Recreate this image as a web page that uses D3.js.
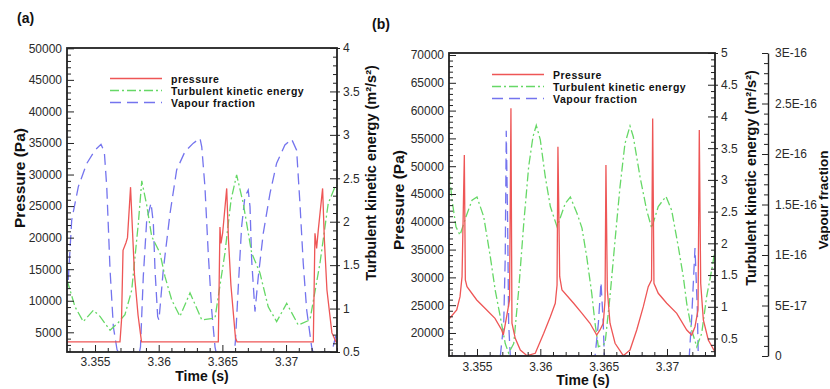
<!DOCTYPE html>
<html>
<head>
<meta charset="utf-8">
<script src="https://cdn.jsdelivr.net/npm/d3@7"></script>
<style>
  body { margin: 0; background: #fff; }
  svg { display: block; font-family: "Liberation Sans", Arial, sans-serif; }
</style>
</head>
<body>
<svg id="chart" width="830" height="389"></svg>
<script>
"use strict";

// ---- panel (a) ----
const pressureTimeA = [3.35280, 3.35696, 3.35708, 3.35720, 3.35743, 3.35755, 3.35779, 3.35794, 3.35810, 3.35838, 3.35865,
  3.36468, 3.36481, 3.36489, 3.36502, 3.36534, 3.36548, 3.36567, 3.36603, 3.36615,
  3.37214, 3.37227, 3.37240, 3.37253, 3.37287, 3.37301, 3.37321, 3.37360, 3.37392, 3.37400];
const pressureA = [3500, 3500, 6900, 18000, 19200, 20000, 28000, 21200, 14100, 7700, 3500,
  3500, 21700, 19100, 20700, 27800, 19600, 12500, 4100, 3500,
  3500, 20700, 18300, 21200, 27800, 19600, 11700, 4900, 3500, 3500];

const tkeTimeA = [3.35280, 3.35343, 3.35408, 3.35487, 3.35539, 3.35618, 3.35683, 3.35735, 3.35788, 3.35840, 3.35867,
  3.35906, 3.35945, 3.36010, 3.36049, 3.36102, 3.36167, 3.36246, 3.36338, 3.36442, 3.36520, 3.36568, 3.36612,
  3.36664, 3.36730, 3.36795, 3.36860, 3.36926, 3.37005, 3.37096, 3.37188, 3.37266, 3.37331, 3.37384, 3.37400];
const tkeA = [1.33, 1.02, 0.85, 0.98, 0.91, 0.75, 0.84, 0.93, 1.21, 1.98, 2.47,
  2.19, 1.83, 1.64, 1.37, 1.10, 0.91, 1.18, 0.87, 0.89, 1.64, 2.25, 2.54,
  2.21, 1.64, 1.41, 1.02, 0.85, 1.06, 0.81, 0.87, 1.52, 2.21, 2.40, 2.42];

// vapour fraction in (a) has no axis of its own: values are relative (0..1 of the frame height)
const vapourTimeA = [3.35290, 3.35317, 3.35369, 3.35435, 3.35500, 3.35547, 3.35573, 3.35592, 3.35618, 3.35644, 3.35673, 3.35684,
  3.35849, 3.35857, 3.35879, 3.35906, 3.35940, 3.35958, 3.35971, 3.35992, 3.36002, 3.36036, 3.36089, 3.36141, 3.36206,
  3.36272, 3.36324, 3.36338, 3.36363, 3.36389, 3.36416, 3.36442, 3.36450,
  3.36595, 3.36603, 3.36625, 3.36651, 3.36677, 3.36703, 3.36717, 3.36730, 3.36756, 3.36782, 3.36821, 3.36874, 3.36926,
  3.36991, 3.37044, 3.37083, 3.37109, 3.37135, 3.37162, 3.37201, 3.37211, 3.37360, 3.37400];
const vapourA = [0.237, 0.434, 0.544, 0.620, 0.664, 0.683, 0.659, 0.544, 0.270, 0.083, 0.007, 0,
  0, 0.017, 0.248, 0.434, 0.490, 0.423, 0.270, 0.116, 0.105, 0.270, 0.456, 0.599, 0.659,
  0.687, 0.703, 0.675, 0.544, 0.325, 0.138, 0.017, 0,
  0, 0.040, 0.215, 0.412, 0.511, 0.533, 0.478, 0.303, 0.133, 0.248, 0.390, 0.522, 0.621,
  0.681, 0.700, 0.664, 0.489, 0.292, 0.138, 0.017, 0, 0, 0.072];

// ---- panel (b) ----
const pressureTimeB = [3.35279, 3.35340, 3.35366, 3.35382, 3.35400, 3.35408, 3.35421, 3.35498, 3.35563, 3.35642, 3.35695, 3.35708,
  3.35734, 3.35757, 3.35768, 3.35776, 3.35802, 3.35842, 3.35895, 3.35960, 3.36027, 3.36079, 3.36118, 3.36132, 3.36139,
  3.36153, 3.36171, 3.36263, 3.36329, 3.36392, 3.36445, 3.36471, 3.36497, 3.36511, 3.36518, 3.36529, 3.36550, 3.36590,
  3.36655, 3.36708, 3.36761, 3.36813, 3.36852, 3.36878, 3.36887, 3.36897, 3.36931, 3.36998, 3.37077, 3.37156, 3.37195,
  3.37221, 3.37245, 3.37255, 3.37266, 3.37287, 3.37326, 3.37379];
const pressureB = [22500, 24140, 26530, 30130, 52000, 29530, 28330, 25940, 24440, 22640, 20540, 19640,
  22930, 25940, 60400, 21750, 19050, 16940, 15920, 16350, 19940, 22930, 25340, 28630, 53500,
  30130, 27730, 25340, 23540, 21750, 19640, 20540, 21750, 25940, 50200, 27730, 21750, 18150,
  15920, 16940, 20540, 24730, 28330, 29530, 58600, 28940, 27140, 25340, 23540, 20540, 19640,
  21130, 24140, 56500, 28940, 22340, 18740, 16580];

const tkeTimeB = [3.35279, 3.35303, 3.35334, 3.35366, 3.35413, 3.35461, 3.35500, 3.35553, 3.35605, 3.35644, 3.35684,
  3.35723, 3.35750, 3.35790, 3.35829, 3.35869, 3.35908, 3.35942, 3.35968, 3.36000, 3.36039, 3.36079, 3.36132,
  3.36197, 3.36237, 3.36290, 3.36329, 3.36366, 3.36406, 3.36432, 3.36458, 3.36511, 3.36550, 3.36590, 3.36629,
  3.36668, 3.36708, 3.36734, 3.36787, 3.36840, 3.36879, 3.36931, 3.36992, 3.37037, 3.37089, 3.37129, 3.37156,
  3.37195, 3.37235, 3.37274, 3.37313, 3.37353, 3.37379];
const tkeB = [3.15, 2.68, 2.26, 2.13, 2.42, 2.68, 2.73, 2.42, 1.79, 1.26, 0.84,
  0.42, 0.27, 0.42, 1.26, 2.31, 3.21, 3.68, 3.86, 3.63, 3.05, 2.58, 2.26,
  2.63, 2.73, 2.47, 2.24, 1.79, 1.21, 0.74, 0.37, 0.42, 1.16, 2.05, 2.89,
  3.57, 3.85, 3.68, 3.05, 2.52, 2.24, 2.58, 2.74, 2.52, 1.95, 1.47, 1.05,
  0.63, 0.37, 0.58, 1.16, 1.58, 1.89];

const vapourTimeB = [3.35279, 3.35684, 3.35711, 3.35723, 3.35731, 3.35742, 3.35750, 3.35763,
  3.36432, 3.36458, 3.36479, 3.36497, 3.36505,
  3.37176, 3.37195, 3.37221, 3.37239, 3.37247, 3.37379];
const vapourB = [0, 0, 3.2e-17, 9.8e-17, 2.23e-16, 1.32e-16, 3.2e-17, 0,
  0, 3.2e-17, 7.3e-17, 3.2e-17, 0,
  0, 3.8e-17, 1.07e-16, 4.8e-17, 0, 0];

// ---- ticks ----
const timeTicks = [3.355, 3.36, 3.365, 3.37];
const timeTickLabels = ["3.355", "3.36", "3.365", "3.37"];
const tkeTickLabels = ["0.5", "1", "1.5", "2", "2.5", "3", "3.5", "4", "4.5", "5"];
const vapourTicks = [0, 5e-17, 1e-16, 1.5e-16, 2e-16, 2.5e-16, 3e-16];
const vapourTickLabels = ["0", "5E-17", "1E-16", "1.5E-16", "2E-16", "2.5E-16", "3E-16"];
const legendLabelsA = ["pressure", "Turbulent kinetic energy", "Vapour fraction"];
const legendLabelsB = ["Pressure", "Turbulent kinetic energy", "Vapour fraction"];

const colors = { p: "#ee5656", k: "#66d866", v: "#7474ee" };
const dashes = { p: null, k: "9,3,2,3", v: "11,6" };
const ink = "#222";

const svg = d3.select("#chart");

function zip(xs, ys) {
  return xs.map((t, i) => [t, ys[i]]);
}

function minorRange(lo, hi, step, majorStep) {
  let out = [];
  for (let v = Math.ceil(lo / step) * step; v <= hi + step * 1e-6; v += step) {
    let r = Math.round(v / step) * step;
    if (Math.abs(r / majorStep - Math.round(r / majorStep)) > 1e-6) out.push(r);
  }
  return out;
}

function styleAxis(g) {
  g.attr("font-size", 12).attr("font-family", null);
  g.selectAll("line").attr("stroke", ink);
  g.selectAll("text").attr("fill", "#2a2a2a");
}

function drawPanel(cfg) {
  let x = d3.scaleLinear().domain(cfg.timeDomain).range([cfg.left, cfg.right]);
  let yP = d3.scaleLinear().domain(cfg.pDomain).range([cfg.bottom, cfg.top]);
  let yK = d3.scaleLinear().domain(cfg.kDomain).range([cfg.bottom, cfg.top]);
  let yV = d3.scaleLinear().domain(cfg.vDomain).range([cfg.bottom, cfg.top]);

  let g = svg.append("g");

  g.append("clipPath").attr("id", "clip-" + cfg.id)
    .append("rect")
    .attr("x", cfg.left).attr("y", cfg.top)
    .attr("width", cfg.right - cfg.left).attr("height", cfg.bottom - cfg.top);

  let plot = g.append("g").attr("clip-path", "url(#clip-" + cfg.id + ")");

  let series = [
    { key: "v", data: cfg.vapour, y: yV },
    { key: "k", data: cfg.tke, y: yK },
    { key: "p", data: cfg.pressure, y: yP }
  ];
  series.forEach(function (s) {
    let line = d3.line().x(d => x(d[0])).y(d => s.y(d[1]));
    plot.append("path")
      .attr("d", line(s.data))
      .attr("fill", "none")
      .attr("stroke", colors[s.key])
      .attr("stroke-width", 1.3)
      .attr("stroke-dasharray", dashes[s.key]);
  });

  // frame
  g.append("rect")
    .attr("x", cfg.left).attr("y", cfg.top)
    .attr("width", cfg.right - cfg.left).attr("height", cfg.bottom - cfg.top)
    .attr("fill", "none").attr("stroke", ink).attr("stroke-width", 1.8);

  // x axis
  let xMinor = minorRange(cfg.timeDomain[0], cfg.timeDomain[1], 0.001, 0.005);
  g.append("g").attr("transform", "translate(0," + cfg.bottom + ")")
    .call(d3.axisBottom(x).tickValues(xMinor).tickFormat("").tickSizeInner(-4).tickSizeOuter(0))
    .call(styleAxis).select(".domain").remove();
  g.append("g").attr("transform", "translate(0," + cfg.bottom + ")")
    .call(d3.axisBottom(x).tickValues(timeTicks).tickFormat((d, i) => timeTickLabels[i])
      .tickSizeInner(-7).tickSizeOuter(0).tickPadding(cfg.xPad))
    .call(styleAxis).select(".domain").remove();

  // pressure axis (left)
  let pMajor = d3.range(Math.ceil(cfg.pDomain[0] / 5000) * 5000, cfg.pDomain[1] + 1, 5000);
  let pMinor = minorRange(cfg.pDomain[0], cfg.pDomain[1], 1000, 5000);
  g.append("g").attr("transform", "translate(" + cfg.left + ",0)")
    .call(d3.axisLeft(yP).tickValues(pMinor).tickFormat("").tickSizeInner(-4).tickSizeOuter(0))
    .call(styleAxis).select(".domain").remove();
  g.append("g").attr("transform", "translate(" + cfg.left + ",0)")
    .call(d3.axisLeft(yP).tickValues(pMajor).tickFormat(d3.format("d"))
      .tickSizeInner(-7).tickSizeOuter(0).tickPadding(5))
    .call(styleAxis).select(".domain").remove();

  // TKE axis (right side of frame)
  let kMajor = d3.range(0.5, cfg.kDomain[1] + 0.01, 0.5);
  let kMinor = minorRange(cfg.kDomain[0], cfg.kDomain[1], 0.1, 0.5);
  g.append("g").attr("transform", "translate(" + cfg.right + ",0)")
    .call(d3.axisRight(yK).tickValues(kMinor).tickFormat("").tickSizeInner(-4).tickSizeOuter(0))
    .call(styleAxis).select(".domain").remove();
  g.append("g").attr("transform", "translate(" + cfg.right + ",0)")
    .call(d3.axisRight(yK).tickValues(kMajor).tickFormat("").tickSizeInner(3).tickSizeOuter(0))
    .call(styleAxis).select(".domain").remove();
  g.append("g").attr("transform", "translate(" + cfg.right + ",0)")
    .call(d3.axisRight(yK).tickValues(kMajor).tickFormat(d => tkeTickLabels[Math.round(d * 2) - 1])
      .tickSizeInner(-7).tickSizeOuter(0).tickPadding(6))
    .call(styleAxis).select(".domain").remove();

  // vapour axis, only in (b)
  if (cfg.vAxisX) {
    let vMinor = minorRange(0, 3e-16, 1e-17, 5e-17);
    g.append("g").attr("transform", "translate(" + cfg.vAxisX + ",0)")
      .call(d3.axisRight(yV).tickValues(vMinor).tickFormat("").tickSizeInner(-4).tickSizeOuter(0))
      .call(styleAxis).select(".domain").remove();
    g.append("g").attr("transform", "translate(" + cfg.vAxisX + ",0)")
      .call(d3.axisRight(yV).tickValues(vapourTicks).tickFormat((d, i) => vapourTickLabels[i])
        .tickSizeInner(-6).tickSizeOuter(0).tickPadding(7))
      .call(styleAxis)
      .select(".domain").attr("stroke", ink).attr("stroke-width", 1.4);
  }

  // legend
  let legend = g.append("g");
  ["p", "k", "v"].forEach(function (k, i) {
    let ly = cfg.legendY[i];
    legend.append("line")
      .attr("x1", cfg.legendX).attr("x2", cfg.legendX + 52)
      .attr("y1", ly).attr("y2", ly)
      .attr("stroke", colors[k]).attr("stroke-width", 1.3)
      .attr("stroke-dasharray", dashes[k]);
    legend.append("text")
      .attr("x", cfg.legendX + 61).attr("y", ly + 4)
      .attr("font-size", 10.5).attr("font-weight", "bold").attr("letter-spacing", 0.5).attr("fill", "#111")
      .text(cfg.legendLabels[i]);
  });

  // titles
  g.append("text")
    .attr("x", (cfg.left + cfg.right) / 2 + cfg.timeTitleDx).attr("y", cfg.timeTitleY)
    .attr("text-anchor", "middle").attr("font-size", 14).attr("font-weight", "bold").attr("fill", "#111")
    .text("Time (s)");

  cfg.vTitles.forEach(function (t) {
    g.append("text")
      .attr("transform", "translate(" + t.x + "," + t.y + ") rotate(-90)")
      .attr("text-anchor", "middle").attr("font-size", t.size).attr("font-weight", "bold").attr("fill", "#111")
      .text(t.text);
  });

  g.append("text")
    .attr("x", cfg.tagX).attr("y", cfg.tagY)
    .attr("font-size", 14).attr("font-weight", "bold").attr("fill", "#111")
    .text(cfg.tag);
}

drawPanel({
  id: "a", tag: "(a)", tagX: 17, tagY: 23,
  left: 67, right: 337, top: 48, bottom: 352,
  timeDomain: [3.35280, 3.37400],
  pDomain: [1880, 50050], kDomain: [0.5, 4], vDomain: [0, 1],
  pressure: zip(pressureTimeA, pressureA),
  tke: zip(tkeTimeA, tkeA),
  vapour: zip(vapourTimeA, vapourA),
  xPad: 5, timeTitleDx: 0, timeTitleY: 381,
  legendX: 110, legendY: [78.5, 90.5, 102.5], legendLabels: legendLabelsA,
  vTitles: [
    { text: "Pressure (Pa)", x: 25, y: 178, size: 15.5 },
    { text: "Turbulent kinetic energy (m\u00b2/s\u00b2)", x: 376, y: 173, size: 14.5 }
  ]
});

drawPanel({
  id: "b", tag: "(b)", tagX: 372, tagY: 29,
  left: 449, right: 715, top: 53, bottom: 356,
  timeDomain: [3.35279, 3.37379],
  pDomain: [15860, 70360], kDomain: [0.224, 5], vDomain: [0, 3e-16],
  pressure: zip(pressureTimeB, pressureB),
  tke: zip(tkeTimeB, tkeB),
  vapour: zip(vapourTimeB, vapourB),
  vAxisX: 768,
  xPad: 6, timeTitleDx: 1, timeTitleY: 385,
  legendX: 492, legendY: [74.5, 86.5, 98.5], legendLabels: legendLabelsB,
  vTitles: [
    { text: "Pressure (Pa)", x: 404, y: 200, size: 15.5 },
    { text: "Turbulent kinetic energy (m\u00b2/s\u00b2)", x: 756, y: 178, size: 14.5 },
    { text: "Vapour fraction", x: 828, y: 200, size: 13.5 }
  ]
});
</script>
</body>
</html>
